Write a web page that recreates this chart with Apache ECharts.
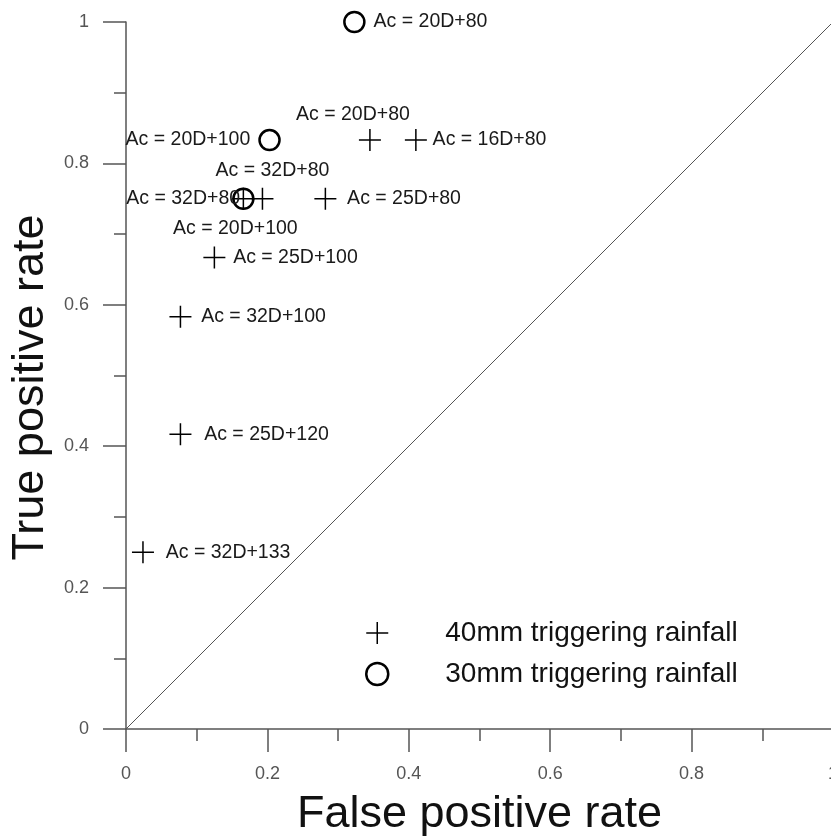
<!DOCTYPE html>
<html>
<head>
<meta charset="utf-8">
<script src="https://cdn.jsdelivr.net/npm/echarts@6/dist/echarts.min.js"></script>
<style>
  html, body { margin: 0; padding: 0; background: #fff; }
  #chart { width: 831px; height: 838px; }
</style>
</head>
<body>
<div id="chart"></div>
<script>
// 40mm triggering rainfall (plus marks)
var rain40Names = ['Ac = 16D+80', 'Ac = 20D+80', 'Ac = 25D+80', 'Ac = 32D+80', 'Ac = 20D+100',
                   'Ac = 25D+100', 'Ac = 32D+100', 'Ac = 25D+120', 'Ac = 32D+133'];
var rain40Fpr = [0.41, 0.345, 0.282, 0.193, 0.166, 0.125, 0.077, 0.077, 0.024];
var rain40Tpr = [0.833, 0.833, 0.75, 0.75, 0.75, 0.667, 0.583, 0.417, 0.25];

// 30mm triggering rainfall (circle marks)
var rain30Names = ['Ac = 20D+80', 'Ac = 20D+100', 'Ac = 32D+80'];
var rain30Fpr = [0.323, 0.203, 0.166];
var rain30Tpr = [1.0, 0.833, 0.75];

var diagonal = [[0, 0], [1, 1]];

// label placement (style only)
var rain40Label = [
  {position: 'right', distance: 5},
  {position: 'top', distance: 4, offset: [-17, 0]},
  {position: 'right', distance: 10},
  {position: 'top', distance: 6, offset: [10, 0]},
  {position: 'bottom', distance: 8, offset: [-8, 0]},
  {position: 'right', distance: 7},
  {position: 'right', distance: 9},
  {position: 'right', distance: 12},
  {position: 'right', distance: 11}
];
var rain30Label = [
  {position: 'right', distance: 8},
  {position: 'left', distance: 8},
  {position: 'left', distance: -8}
];

var FONT = '"Liberation Sans", Arial, sans-serif';
var PLUS = 'path://M0,-10 L0,10 M-10,0 L10,0';

function build(names, xs, ys, labels) {
  return names.map(function (n, i) {
    return {name: n, value: [xs[i], ys[i]], label: labels[i]};
  });
}

var chart = echarts.init(document.getElementById('chart'));

var axisCommon = {
  type: 'value',
  min: 0,
  max: 1,
  interval: 0.2,
  splitLine: {show: false},
  axisLine: {show: true, lineStyle: {color: '#555', width: 1.5}},
  axisTick: {show: true, inside: false, length: 23, lineStyle: {color: '#555', width: 1.5}},
  minorTick: {show: true, splitNumber: 2, length: 12, lineStyle: {color: '#555', width: 1.5}},
  minorSplitLine: {show: false},
  nameLocation: 'middle'
};

chart.setOption({
  animation: false,
  backgroundColor: '#fff',
  grid: {left: 126, top: 22, right: -2, bottom: 109, containLabel: false, outerBoundsMode: 'none'},
  xAxis: Object.assign({}, axisCommon, {
    name: 'False positive rate',
    nameGap: 63,
    nameTextStyle: {fontFamily: FONT, fontSize: 45, color: '#111'},
    axisLabel: {margin: 36, fontFamily: FONT, fontSize: 18, color: '#555'}
  }),
  yAxis: Object.assign({}, axisCommon, {
    name: 'True positive rate',
    nameGap: 68,
    nameTextStyle: {fontFamily: FONT, fontSize: 45, color: '#111', padding: [0, 24, 0, 0]},
    axisLabel: {margin: 37, fontFamily: FONT, fontSize: 18, color: '#555'}
  }),
  legend: {
    orient: 'vertical',
    left: 360,
    top: 614,
    itemWidth: 126,
    itemHeight: 22,
    itemGap: 13,
    textStyle: {fontFamily: FONT, fontSize: 28, color: '#111'},
    data: [
      {name: '40mm triggering rainfall', icon: PLUS,
       itemStyle: {color: 'transparent', borderColor: '#000', borderWidth: 1.5}},
      {name: '30mm triggering rainfall', icon: 'circle',
       itemStyle: {color: 'transparent', borderColor: '#000', borderWidth: 2.5}}
    ]
  },
  series: [
    {
      type: 'line',
      data: diagonal,
      symbol: 'none',
      silent: true,
      lineStyle: {color: '#555', width: 1},
      z: 1
    },
    {
      name: '40mm triggering rainfall',
      type: 'scatter',
      symbol: PLUS,
      symbolSize: 22,
      itemStyle: {color: 'transparent', borderColor: '#000', borderWidth: 1.5, opacity: 1},
      label: {
        show: true,
        formatter: '{b}',
        fontFamily: FONT,
        fontSize: 19.5,
        color: '#1a1a1a'
      },
      data: build(rain40Names, rain40Fpr, rain40Tpr, rain40Label),
      z: 3
    },
    {
      name: '30mm triggering rainfall',
      type: 'scatter',
      symbol: 'circle',
      symbolSize: 20,
      itemStyle: {color: 'transparent', borderColor: '#000', borderWidth: 2.5, opacity: 1},
      label: {
        show: true,
        formatter: '{b}',
        fontFamily: FONT,
        fontSize: 19.5,
        color: '#1a1a1a'
      },
      data: build(rain30Names, rain30Fpr, rain30Tpr, rain30Label),
      z: 4
    }
  ]
});
</script>
</body>
</html>
